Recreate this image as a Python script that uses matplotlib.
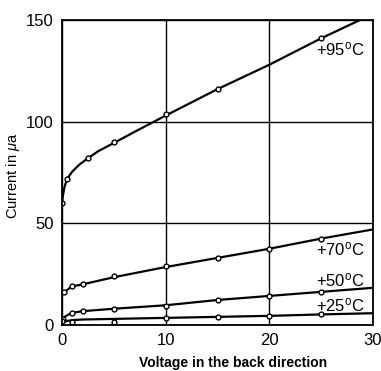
import matplotlib.pyplot as plt

# measured points (volts, microamps)
v95 = [0, 0.5, 2.5, 5, 10, 15, 25]
i95 = [60, 72, 82, 90, 104, 116, 141]
v70 = [0.2, 1, 2, 5, 10, 15, 20, 25]
i70 = [16, 19, 20, 24, 29, 33, 37.5, 42.5]
v50 = [0.1, 1, 2, 5, 10, 15, 20, 25]
i50 = [3, 6, 7, 8, 9.5, 12.4, 14.4, 16.3]
v25 = [0, 1, 5, 10, 15, 20, 25]
i25 = [2, 1.5, 1.5, 3.5, 4, 4.5, 5.3]

# curves drawn through the points
cv95 = [0, 0.1, 0.25, 0.5, 1, 1.7, 2.5, 3.5, 5, 7, 10, 15, 20, 25, 30]
ci95 = [60, 64, 68, 72, 75.5, 79, 82, 85.5, 89.5, 95, 103, 116, 128, 141, 153]
cv70 = [0, 0.3, 0.7, 1, 2, 5, 10, 15, 20, 25, 30]
ci70 = [15, 16.5, 18, 19, 20, 23.5, 28.5, 33, 37.5, 42.5, 47]
cv50 = [0, 0.3, 0.7, 1, 2, 5, 10, 15, 20, 25, 30]
ci50 = [3, 4.2, 5.3, 6, 6.8, 8, 9.7, 12.3, 14.3, 16.3, 18.3]
cv25 = [0, 0.5, 1, 2, 5, 10, 15, 20, 25, 30]
ci25 = [1, 2, 2.4, 2.7, 3, 3.5, 4, 4.5, 5.2, 5.8]

labels = ["+95$^{\\rm o}$C", "+70$^{\\rm o}$C", "+50$^{\\rm o}$C", "+25$^{\\rm o}$C"]
label_y = [135.5, 37, 21.8, 9.9]

plt.rcParams['font.family'] = ['Liberation Sans', 'DejaVu Sans']
plt.rcParams['mathtext.fontset'] = 'custom'
plt.rcParams['mathtext.rm'] = 'Liberation Sans'
plt.rcParams['mathtext.it'] = 'Liberation Sans:italic'

fig = plt.figure(figsize=(3.81, 3.71), dpi=100)
ax = fig.add_axes([62/381, 1-325/371, 311/381, 305/371])

for cv, ci in [(cv95, ci95), (cv70, ci70), (cv50, ci50), (cv25, ci25)]:
    ax.plot(cv, ci, color='black', lw=1.6, solid_capstyle='butt')
for v, i in [(v95, i95), (v70, i70), (v50, i50), (v25, i25)]:
    ax.plot(v, i, 'o', ms=3.5, mfc='white', mec='black', mew=1.0)

for txt, y in zip(labels, label_y):
    ax.text(24.5, y, txt, fontsize=12, va='center', ha='left')

ax.set_xlim(0, 30)
ax.set_ylim(0, 150)
ax.set_xticks([0, 10, 20, 30])
ax.set_yticks([0, 50, 100, 150])
ax.grid(True, color='black', lw=1.0)
ax.tick_params(length=0, labelsize=12, pad=6)
for s in ax.spines.values():
    s.set_linewidth(1.3)

fig.text(233/381, 1-363/371, "Voltage in the back direction", fontsize=10,
         fontweight='bold', ha='center', va='center')
fig.text(13/381, 1-176/371, "Current in $\\mu$a", fontsize=10.5, rotation=90,
         ha='center', va='center')

fig.savefig("out.png", dpi=100)
